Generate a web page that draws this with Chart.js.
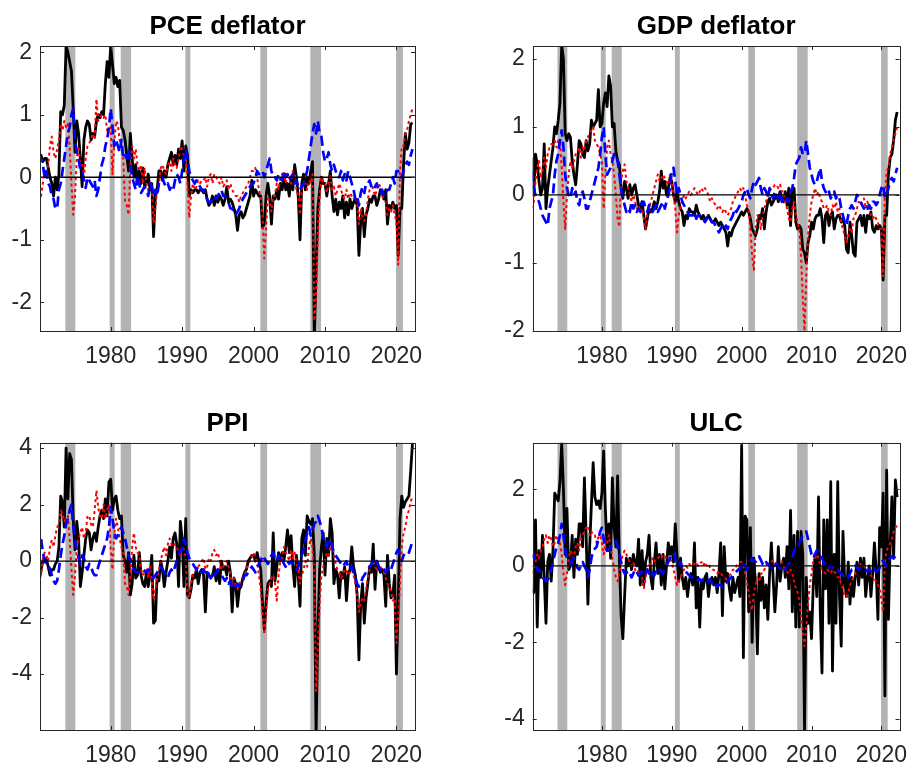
<!DOCTYPE html>
<html>
<head>
<meta charset="utf-8">
<script src="https://cdn.jsdelivr.net/npm/chart.js@4.4.1/dist/chart.umd.min.js"></script>
<style>
  body { margin: 0; background: #fff; width: 920px; height: 767px; position: relative; overflow: hidden; }
  canvas { position: absolute; display: block; }
</style>
</head>
<body>
<canvas id="pce" width="460" height="383" style="left:0;top:0"></canvas>
<canvas id="gdp" width="460" height="383" style="left:460px;top:0"></canvas>
<canvas id="ppi" width="460" height="384" style="left:0;top:383px"></canvas>
<canvas id="ulc" width="460" height="384" style="left:460px;top:383px"></canvas>
<script>
// quarterly series, first value = 1970Q1
const startYear = 1970;
const xMin = 1970.1, xMax = 2022.6;
const xTicks = [1980, 1990, 2000, 2010, 2020];

// NBER recessions (shaded)
const recessions = [
  [1973.65, 1975.05], [1979.85, 1980.55], [1981.4, 1982.85], [1990.45, 1991.15],
  [2000.95, 2001.9], [2007.95, 2009.45], [2019.95, 2020.9]
];

const pceBlack = [
  0.2, 0.35, 0.25, 0.3, 0.3, 0.15, 0.0, -0.1, -0.3, 0.0, -0.2, 0.05, 1.05, 1.0, 1.15, 2.1, 2.0, 1.85, 1.7, 1.1,
  0.4, 0.9, 0.7, 0.3, -0.15, 0.6, 0.8, 0.9, 0.85, 0.6, 0.7, 0.65, 0.9, 1.0, 0.95, 1.05, 1.0, 1.5, 1.85, 1.6,
  2.1, 1.8, 1.5, 1.6, 1.45, 1.55, 0.8, 0.75, 0.6, 0.35, 0.1, 0.7, 0.3, 0.0, 0.2, -0.1, 0.1, -0.1, 0.15, -0.15,
  -0.1, 0.05, -0.2, -0.1, -0.95, -0.3, -0.2, 0.1, 0.1, -0.05, 0.1, 0.0, 0.2, 0.3, 0.4, 0.2, 0.35, 0.2, 0.45, 0.3,
  0.58, 0.1, 0.5, 0.35, -0.3, -0.2, -0.25, -0.2, -0.2, -0.25, -0.2, -0.2, -0.25, -0.2, -0.35, -0.45, -0.4, -0.3, -0.45, -0.3,
  -0.4, -0.3, -0.35, -0.45, -0.35, -0.15, -0.4, -0.35, -0.4, -0.5, -0.6, -0.85, -0.6, -0.55, -0.65, -0.6, -0.5, -0.4, -0.3, -0.05,
  -0.3, -0.2, -0.25, -0.3, -0.3, -0.8, -0.75, -0.3, -0.1, -0.3, -0.75, -0.3, -0.35, -0.2, -0.35, -0.1, -0.2, 0.0, -0.2, -0.1,
  -0.3, 0.0, -0.2, 0.2, 0.0, -0.3, -1.0, -0.1, 0.05, -0.2, 0.0, -0.1, 0.1, 0.25, -2.6, -1.5, -0.5, -0.2, 0.0, -0.1,
  -0.1, -0.3, -0.1, 0.1, -0.3, -0.55, -0.35, -0.6, -0.4, -0.5, -0.3, -0.65, -0.4, -0.6, -0.35, -0.5, -0.4, -0.35, -0.45, -1.25,
  -0.7, -0.5, -0.95, -0.6, -0.5, -0.35, -0.4, -0.3, -0.3, -0.45, -0.35, -0.2, -0.25, -0.35, -0.2, -0.75, -0.45, -0.5, -0.4, -0.5,
  -0.45, -1.25, -0.5, -0.5, 0.2, 0.7, 0.45, 0.55, 0.85, 0.87
];
const pceRed = [
  -0.2, -0.3, -0.1, 0.1, 0.0, 0.2, 0.5, 0.65, 0.4, 0.3, 0.45, 0.6, 0.85, 0.75, 0.9, 0.8, 0.85, 0.5, -0.1, -0.6,
  -0.3, 0.3, 0.5, 0.2, 0.2, 0.0, 0.3, 0.5, 0.55, 0.6, 0.7, 0.6, 1.25, 0.9, 0.95, 1.0, 0.95, 1.0, 0.75, 0.8,
  0.8, 0.05, 0.55, 0.9, 0.85, 0.6, 0.5, 0.3, -0.38, -0.45, -0.6, 0.2, 0.5, 0.3, 0.45, 0.2, 0.1, 0.2, -0.1, 0.15,
  -0.1, -0.2, -0.1, -0.15, -0.73, -0.5, -0.2, -0.1, 0.15, 0.2, 0.1, 0.05, 0.2, 0.25, 0.1, 0.3, 0.2, 0.15, 0.3, 0.5,
  0.45, 0.35, 0.3, -0.1, -0.65, -0.3, -0.1, -0.2, -0.15, -0.05, -0.1, -0.05, -0.05, 0.0, -0.15, 0.0, 0.05, -0.1, 0.05, 0.0,
  -0.05, -0.1, 0.0, -0.15, -0.1, -0.05, -0.2, -0.1, -0.2, -0.25, -0.3, -0.3, -0.4, -0.3, -0.25, -0.2, -0.15, -0.1, 0.0, 0.1,
  0.1, 0.15, 0.0, -0.2, -0.3, -0.6, -1.3, -0.8, -0.3, -0.4, -0.55, -0.3, -0.3, -0.1, -0.2, 0.0, 0.05, 0.1, -0.1, 0.05,
  0.0, -0.1, 0.1, 0.05, -0.2, -0.3, -0.6, -0.2, -0.1, -0.1, -0.2, -0.05, -0.1, 0.05, -2.3, -1.9, -0.9, -0.3, 0.0, -0.1,
  -0.1, -0.25, -0.1, 0.05, -0.2, -0.15, -0.3, -0.2, -0.1, -0.2, -0.3, -0.35, -0.2, -0.35, -0.25, -0.3, -0.35, -0.3, -0.4, -0.75,
  -0.5, -0.65, -0.7, -0.6, -0.35, -0.2, -0.1, -0.2, -0.3, -0.2, -0.1, -0.15, -0.3, -0.35, -0.4, -0.6, -0.5, -0.55, -0.45, -0.6,
  -0.7, -1.4, 0.1, 0.5, 0.5, 0.7, 0.75, 0.9, 1.0, 1.1
];
const pceBlue = [
  0.4, 0.3, 0.2, 0.0, 0.1, -0.1, -0.15, -0.3, -0.35, -0.5, -0.5, -0.2, -0.1, 0.1, 0.3, 0.5, 0.7, 0.8, 1.0, 1.1,
  0.6, 0.4, 0.3, 0.1, 0.1, -0.05, -0.17, 0.0, -0.05, -0.1, -0.15, -0.05, -0.3, -0.2, 0.0, 0.2, 0.3, 0.5, 0.6, 0.8,
  1.1, 0.8, 0.5, 0.6, 0.5, 0.4, 0.6, 0.3, 0.35, 0.3, 0.45, 0.2, 0.0, -0.1, -0.2, 0.05, -0.1, -0.25, -0.2, -0.15,
  -0.2, -0.3, -0.1, -0.15, -0.3, -0.2, -0.3, -0.1, -0.05, 0.0, -0.1, -0.15, -0.1, -0.2, -0.15, -0.2, -0.05, 0.05, 0.0, -0.1,
  0.1, 0.3, 0.45, 0.3, 0.1, 0.0, -0.05, -0.1, -0.05, -0.1, -0.15, -0.2, -0.2, -0.3, -0.35, -0.4, -0.4, -0.35, -0.3, -0.35,
  -0.3, -0.25, -0.2, -0.3, -0.3, -0.35, -0.4, -0.5, -0.5, -0.55, -0.6, -0.55, -0.5, -0.4, -0.35, -0.3, -0.25, -0.2, -0.15, -0.1,
  -0.1, 0.0, 0.1, 0.05, 0.05, 0.1, 0.0, 0.1, 0.2, 0.3, 0.1, 0.0, 0.0, -0.05, 0.05, 0.0, -0.05, 0.1, 0.0, 0.05,
  -0.05, 0.0, 0.05, -0.1, -0.05, -0.15, -0.2, -0.15, -0.1, 0.0, 0.1, 0.3, 0.5, 0.7, 0.85, 0.7, 0.9, 0.7, 0.65, 0.4,
  0.25, 0.3, 0.4, 0.2, 0.1, 0.2, 0.1, 0.0, 0.0, 0.1, -0.05, 0.05, -0.05, 0.1, 0.0, -0.1, -0.2, -0.35, -0.3, -0.45,
  -0.25, -0.15, -0.25, -0.1, -0.1, -0.05, -0.15, -0.2, -0.15, -0.1, -0.2, -0.25, -0.2, -0.3, -0.25, -0.2, -0.2, -0.1, 0.0, -0.1,
  0.1, 0.1, 0.0, 0.0, 0.1, 0.2, 0.25, 0.2, 0.35, 0.45
];

const gdpBlack = [
  0.55, 0.0, 0.6, 0.45, 0.2, 0.0, 0.1, 0.75, -0.2, 0.1, 0.3, 0.5, 0.7, 1.0, 0.9, 1.1, 1.35, 2.2, 2.0, 0.9,
  0.8, 0.9, 0.85, 0.5, 0.3, 0.15, 0.45, 0.8, 0.75, 0.6, 0.55, 0.8, 0.65, 0.75, 1.1, 1.0, 1.05, 1.1, 1.55, 1.0,
  1.05, 1.35, 1.5, 1.3, 1.75, 1.6, 1.0, 1.05, 0.65, 0.5, 0.45, 0.1, -0.05, 0.2, 0.1, -0.05, 0.15, 0.0, 0.1, 0.15,
  0.0, -0.15, -0.2, -0.1, -0.3, -0.5, -0.35, -0.2, -0.25, -0.2, -0.1, -0.2, -0.1, 0.05, 0.35, 0.1, 0.2, 0.0, 0.1, 0.25,
  0.2, 0.0, -0.1, 0.05, -0.1, -0.2, -0.25, -0.45, -0.3, -0.35, -0.2, -0.25, -0.25, -0.3, -0.15, -0.25, -0.3, -0.35, -0.3, -0.35,
  -0.35, -0.3, -0.35, -0.4, -0.4, -0.35, -0.4, -0.45, -0.4, -0.45, -0.5, -0.55, -0.75, -0.55, -0.6, -0.5, -0.45, -0.4, -0.35, -0.3,
  -0.25, -0.3, -0.25, -0.2, -0.25, -0.35, -0.5, -0.55, -0.6, -0.5, -0.3, -0.35, -0.2, -0.5, -0.25, -0.1, -0.05, -0.15, -0.1, -0.05,
  0.0, -0.1, 0.05, -0.05, -0.1, 0.05, -0.15, 0.1, -0.45, 0.05, 0.1, -0.4, -0.5, -0.45, -0.5, -0.8, -0.85, -1.0, -0.7, -0.6,
  -0.4, -0.5, -0.35, -0.3, -0.3, -0.2, -0.35, -0.7, -0.3, -0.25, -0.45, -0.3, -0.25, -0.5, -0.35, -0.3, -0.3, -0.4, -0.35, -0.45,
  -0.8, -0.85, -0.4, -0.6, -0.85, -0.9, -0.4, -0.35, -0.3, -0.45, -0.3, -0.55, -0.3, -0.35, -0.25, -0.5, -0.55, -0.45, -0.5, -0.45,
  -0.5, -1.25, -0.3, -0.3, 0.3, 0.55, 0.6, 0.8, 1.1, 1.22
];
const gdpRed = [
  -0.2, -0.1, 0.2, 0.4, 0.5, 0.25, 0.35, 0.55, 0.4, 0.6, 0.7, 0.75, 0.75, 0.8, 0.7, 0.8, 0.8, 0.4, -0.1, -0.5,
  0.0, 0.3, 0.5, 0.4, 0.5, 0.6, 0.65, 0.7, 0.55, 0.7, 0.65, 0.8, 0.85, 0.9, 0.95, 1.0, 0.8, 0.75, 0.7, 0.6,
  0.5, -0.2, 0.3, 0.7, 0.8, 0.6, 0.5, 0.3, 0.0, -0.35, -0.47, 0.2, 0.35, 0.45, 0.2, 0.1, 0.0, -0.1, 0.0, -0.1,
  -0.2, -0.15, -0.25, -0.2, -0.35, -0.5, -0.3, -0.2, -0.1, 0.0, 0.1, 0.2, 0.3, 0.2, 0.25, 0.3, 0.25, 0.2, 0.15, 0.3,
  0.2, 0.0, -0.2, -0.55, -0.3, -0.15, -0.1, 0.0, -0.05, 0.0, 0.05, 0.0, 0.05, 0.1, 0.05, 0.0, 0.05, 0.1, 0.05, 0.1,
  0.05, 0.0, -0.1, -0.05, -0.1, -0.15, -0.2, -0.15, -0.2, -0.25, -0.2, -0.25, -0.3, -0.25, -0.2, -0.1, -0.05, 0.0, 0.05, 0.1,
  0.05, 0.1, 0.0, -0.15, -0.2, -0.5, -0.9, -1.1, -0.5, -0.3, -0.35, -0.5, -0.3, -0.2, -0.1, 0.0, 0.05, 0.1, 0.1, 0.15,
  0.15, 0.1, 0.15, 0.05, 0.05, -0.1, -0.2, -0.35, -0.4, -0.2, -0.1, -0.3, -0.4, -0.5, -0.9, -1.5, -2.0, -1.2, -0.6, -0.3,
  -0.1, 0.0, 0.1, 0.0, 0.05, -0.05, -0.1, -0.2, -0.2, -0.15, -0.25, -0.3, -0.15, -0.2, -0.1, -0.25, -0.2, -0.4, -0.5, -0.6,
  -0.7, -0.6, -0.5, -0.55, -0.35, -0.3, -0.2, -0.1, -0.15, -0.1, -0.05, -0.2, -0.1, -0.2, -0.3, -0.35, -0.3, -0.35, -0.4, -0.5,
  -0.5, -1.2, 0.0, 0.35, 0.4, 0.6, 0.7, 0.8, 0.9, 1.0
];
const gdpBlue = [
  0.35, 0.1, 0.0, -0.05, -0.1, -0.2, -0.3, -0.35, -0.4, -0.45, -0.2, -0.1, 0.0, 0.3, 0.5, 0.6, 0.8, 0.95, 0.7, 0.3,
  0.1, 0.0, -0.05, 0.1, 0.0, 0.05, -0.1, -0.15, 0.0, 0.05, -0.05, -0.2, -0.2, -0.1, 0.0, 0.1, 0.2, 0.3, 0.4, 0.6,
  0.85, 1.0, 0.6, 0.3, 0.35, 0.4, 0.5, 0.6, 0.6, 0.5, 0.3, 0.1, -0.05, -0.15, -0.25, -0.2, -0.25, -0.1, -0.2, -0.15,
  -0.25, -0.2, -0.25, -0.1, -0.1, -0.2, -0.25, -0.15, -0.2, -0.25, -0.2, -0.15, -0.25, -0.2, -0.15, -0.1, -0.2, -0.1, 0.0, 0.1,
  0.35, 0.4, 0.2, 0.0, 0.1, 0.0, -0.1, -0.15, -0.2, -0.25, -0.3, -0.3, -0.3, -0.25, -0.35, -0.3, -0.3, -0.35, -0.35, -0.4,
  -0.35, -0.3, -0.35, -0.4, -0.4, -0.45, -0.5, -0.55, -0.5, -0.45, -0.5, -0.45, -0.5, -0.4, -0.35, -0.3, -0.2, -0.25, -0.2, -0.15,
  -0.1, 0.0, 0.05, 0.1, 0.0, -0.05, 0.1, 0.2, 0.15, 0.2, 0.25, 0.1, 0.0, 0.1, 0.05, -0.05, 0.1, 0.0, -0.05, 0.05,
  0.0, -0.05, 0.05, -0.1, -0.05, -0.1, -0.05, -0.1, 0.05, 0.1, 0.25, 0.45, 0.5, 0.55, 0.7, 0.6, 0.6, 0.8, 0.6, 0.4,
  0.3, 0.2, 0.15, 0.2, 0.3, 0.4, 0.2, 0.1, 0.05, 0.0, 0.05, -0.05, 0.0, 0.05, -0.05, 0.0, -0.05, -0.2, -0.3, -0.4,
  -0.45, -0.3, -0.2, -0.15, -0.2, -0.1, 0.0, -0.05, -0.1, -0.15, -0.2, -0.15, -0.2, -0.15, -0.2, -0.1, -0.1, -0.15, -0.1, 0.0,
  0.1, 0.15, -0.05, 0.0, 0.1, 0.2, 0.25, 0.2, 0.3, 0.4
];

const ppiBlack = [
  -0.7, -0.3, 0.0, 0.1, 0.05, -0.2, -0.5, -0.3, -0.3, -0.1, 0.0, 0.5, 2.3, 2.1, 1.2, 4.0, 2.2, 3.8, 3.6, 1.5,
  0.4, 1.4, 0.8, -0.9, -0.4, 0.2, 0.8, 1.1, 1.0, 0.4, 0.8, 1.0, 0.7, 1.2, 1.6, 1.8, 1.5, 2.2, 1.6, 2.8,
  2.9, 1.8, 2.2, 2.3, 1.8, 1.5, 1.6, 0.2, 0.0, -0.4, 0.3, -1.2, -0.8, 0.2, -0.6, -0.5, 0.3, -0.5, -0.8, -0.9,
  -0.4, -0.9, -0.5, 0.2, -2.2, -2.1, -0.5, -0.7, 0.0, -0.3, -0.9, -0.4, 0.0, 0.5, 0.1, 0.8, 1.0, 0.6, -0.9, 1.4,
  0.8, -0.9, 1.5, -1.2, -1.3, -1.0, -0.5, -0.6, -0.3, -0.8, -0.4, -0.3, -0.5, -1.8, -0.4, -0.5, -0.6, -0.5, -0.2, -0.7,
  -0.3, -0.8, 0.0, -0.3, -0.2, -0.5, 0.0, -0.4, -1.8, -0.6, -0.8, -1.6, -1.0, -0.9, -0.6, -0.4, -0.3, 0.0, 0.1, 0.2,
  0.2, 0.0, 0.3, 0.0, -0.3, -1.5, -2.4, -1.5, -0.8, -0.7, -0.9, 1.0, -0.7, -0.2, 0.3, 0.0, 0.3, 0.0, 0.5, 1.1,
  0.3, 0.9, -0.2, -0.9, 0.2, -0.5, -1.6, 0.8, 1.1, 0.2, 1.6, 1.4, 1.3, 1.5, 0.2, -6.2, -2.5, -0.3, 0.5, 1.0,
  -0.5, 0.8, 0.2, 1.5, 1.0, -0.8, -0.3, -0.5, -1.3, -0.4, -0.6, -0.2, -1.4, -0.5, -0.3, 0.5, -0.2, -0.5, -1.2, -3.5,
  -1.5, -0.8, -2.2, -1.3, -0.8, -0.2, -0.4, 0.6, -1.0, 0.0, -0.2, -0.4, -0.3, -0.5, -1.6, 0.2, -0.8, -1.3, -1.2, -0.5,
  -4.0, -1.5, 1.5, 2.3, 1.9, 2.1, 2.2, 2.3, 3.2, 4.2
];
const ppiRed = [
  -0.4, -0.5, 0.1, 0.3, 0.2, 0.0, 0.5, 0.75, 0.5, 0.9, 1.2, 1.3, 1.8, 1.7, 1.4, 1.5, 1.6, 0.8, -0.3, -1.2,
  -0.5, 0.5, 0.8, 1.0, 1.2, 0.8, 1.0, 1.6, 1.6, 1.3, 1.2, 1.8, 2.5, 1.9, 1.6, 1.5, 2.0, 1.5, 1.8, 2.0,
  0.4, -0.3, 1.0, 1.5, 1.2, 0.8, 0.5, 0.3, -0.8, -0.9, -1.2, -0.5, 0.5, 1.0, 0.5, 0.3, 0.2, -0.3, -0.5, -0.4,
  -0.3, -0.6, -0.2, -0.7, -1.36, -1.0, -0.6, -0.3, 0.0, 0.3, 0.5, 0.2, 0.6, 0.8, 0.6, 0.5, 0.6, 0.5, 0.3, 0.2,
  0.5, 0.4, 0.0, -1.2, -1.3, -0.8, -0.5, -0.4, -0.3, -0.2, -0.1, 0.0, 0.1, -0.3, -0.2, 0.1, 0.0, 0.3, 0.4, 0.2,
  0.3, 0.0, -0.3, -0.2, -0.1, 0.0, -0.2, -0.5, -0.8, -0.6, -0.9, -1.0, -0.8, -0.7, -0.6, -0.5, -0.3, -0.1, 0.0, 0.2,
  0.3, 0.1, 0.0, -0.5, -1.0, -1.8, -2.6, -1.8, -1.0, -0.8, -0.6, -0.5, -0.8, -1.4, -0.5, 0.0, 0.1, 0.5, 0.3, 0.2,
  0.0, 0.4, 0.1, 0.3, -0.1, -0.3, -0.8, -0.5, -0.3, 0.0, -0.2, 0.5, 0.8, 0.5, -0.5, -4.6, -3.0, -1.5, -0.5, -0.2,
  0.0, 0.3, 0.2, 0.5, 0.6, 0.2, -0.1, -0.3, -0.4, -0.6, -0.5, -0.3, -0.3, -0.5, -0.4, -0.3, -0.5, -0.8, -1.2, -1.8,
  -1.5, -1.3, -1.4, -1.0, -0.6, -0.3, -0.1, 0.0, -0.2, -0.3, -0.1, -0.2, -0.3, -0.4, -0.6, -0.8, -0.9, -1.1, -1.4, -1.3,
  -2.9, -2.0, -0.8, 0.5, 1.0, 1.2, 1.6, 1.8, 2.1, 2.3
];
const ppiBlue = [
  0.3, 0.8, 0.3, 0.0, -0.1, -0.1, -0.3, -0.5, -0.7, -0.8, -0.7, -0.3, 0.2, 0.6, 0.9, 1.3, 1.5, 1.8, 2.0, 1.3,
  0.7, 0.4, 0.1, -0.1, 0.2, 0.1, -0.2, -0.3, -0.1, -0.2, -0.4, -0.5, -0.5, -0.2, 0.0, 0.2, 0.4, 0.6, 0.8, 1.2,
  1.9, 1.5, 1.0, 0.8, 0.9, 1.1, 1.2, 1.0, 0.8, 0.5, 0.2, 0.0, -0.2, -0.3, -0.4, -0.4, -0.4, -0.4, -0.3, -0.35,
  -0.4, -0.3, -0.4, -0.5, -0.6, -0.5, -0.4, -0.3, -0.2, -0.3, -0.4, -0.5, -0.6, -0.4, -0.3, -0.4, -0.2, 0.0, 0.2, 0.4,
  0.4, 0.8, 0.6, 0.3, 0.1, 0.0, -0.1, -0.2, -0.3, -0.2, -0.3, -0.4, -0.3, -0.4, -0.3, -0.5, -0.6, -0.5, -0.6, -0.4,
  -0.3, -0.4, -0.5, -0.6, -0.7, -0.6, -0.8, -0.7, -0.9, -1.0, -0.9, -0.8, -0.9, -0.8, -0.7, -0.5, -0.5, -0.4, -0.3, -0.2,
  -0.3, -0.4, -0.2, -0.1, 0.0, 0.2, 0.1, 0.0, -0.1, 0.0, 0.2, 0.3, 0.1, 0.0, 0.2, 0.0, 0.1, -0.1, -0.2, 0.0,
  -0.1, 0.0, -0.1, -0.2, -0.3, -0.2, 0.0, 0.2, 0.4, 0.7, 1.0, 1.2, 0.9, 1.1, 1.3, 1.4, 1.6, 1.4, 1.2, 0.8,
  0.6, 0.5, 0.8, 0.7, 0.5, 0.3, 0.2, 0.1, 0.0, -0.1, -0.2, -0.1, 0.0, -0.2, -0.3, -0.2, -0.4, -0.6, -0.8, -0.9,
  -0.8, -0.6, -0.5, -0.4, -0.3, -0.2, -0.1, 0.0, -0.1, 0.0, -0.2, -0.3, -0.2, -0.3, -0.4, -0.3, -0.2, -0.3, -0.1, 0.1,
  0.3, 0.4, 0.2, 0.0, 0.2, 0.3, 0.35, 0.3, 0.5, 0.7
];

const ulcBlack = [
  -0.6, -0.7, 1.2, -1.6, 0.4, -0.3, 0.8, -0.3, -1.5, 0.1, 0.3, -0.4, 0.4, 1.9, 1.8, 1.7, 2.2, 3.2, 2.0, 0.3,
  1.5, -0.1, 0.0, 0.8, -0.3, 0.7, 0.3, 1.1, 1.1, 0.5, 2.3, 0.8, -1.0, 0.5, 1.6, 2.7, 1.8, 1.6, 1.7, 1.5,
  1.9, 3.0, 1.5, 0.4, 1.1, 0.2, 2.3, 1.0, 0.5, 2.35, 0.2, -1.3, -1.9, -0.8, 0.2, 0.0, 0.2, -0.1, 0.3, 0.1,
  0.0, 0.7, -0.5, 0.4, -0.5, 0.1, 0.3, 0.8, -0.3, -0.6, 0.1, 0.6, -0.2, 0.3, -0.5, 0.3, -0.6, 0.0, 0.6, 0.3,
  0.5, 0.1, 1.1, 0.3, -0.4, 0.2, -0.3, -0.6, -0.3, -0.8, -0.4, -0.2, -0.5, 0.6, -1.1, -0.3, -1.6, -0.4, -0.6, -0.3,
  -0.2, -0.8, -0.4, -0.3, -0.5, -0.3, -0.7, -0.2, 0.6, -1.3, 0.5, -0.4, -0.2, -0.6, -0.9, -0.3, -0.7, -0.5, -0.3, -0.8,
  3.15, -2.4, 1.3, 1.2, -1.2, 1.0, -2.0, 0.2, -0.5, -2.3, -0.2, -0.9, -0.3, -1.1, -0.5, -1.4, -0.2, 0.6, -0.3, -1.2,
  -0.5, 0.5, -0.4, 0.0, 0.2, -0.3, 0.5, -0.6, 1.45, -1.2, 0.8, -1.6, 0.9, -1.6, 0.9, 0.3, -4.3, -0.3, -1.5, -1.2,
  -1.9, -0.5, 0.3, -0.8, 1.8, -1.2, -2.8, 1.2, -0.6, 1.2, -1.5, 2.2, -2.75, 0.3, -1.5, 2.2, -0.8, -2.1, 0.9, -0.4,
  -0.8, 0.1, -1.0, -0.3, -0.8, -0.3, 0.1, -0.5, 0.2, -0.3, 0.2, -0.8, -0.3, 0.0, -0.8, -0.2, 0.6, -0.1, -1.4, 1.0,
  0.5, 1.9, -3.4, 2.5, -1.4, 0.5, 1.8, 0.2, 2.25, 1.8
];
const ulcRed = [
  -0.2, -0.1, 0.1, 0.3, 0.2, 0.4, 0.5, 0.7, 0.8, 0.6, 0.8, 0.7, 0.5, 0.6, 0.8, 0.7, 0.6, 0.3, -0.2, -0.5,
  -0.2, 0.2, 0.4, 0.3, 0.2, 0.5, 0.6, 0.4, 0.7, 0.8, 0.9, 1.0, 1.05, 0.8, 0.9, 0.8, 0.8, 0.6, 0.75, 0.8,
  0.6, 0.3, 0.5, 0.6, 0.8, 0.5, 0.2, -0.1, -0.3, -0.4, -0.2, 0.1, 0.3, 0.4, 0.3, 0.2, 0.1, 0.0, 0.1, -0.1,
  -0.2, -0.1, -0.2, -0.3, -0.6, -0.3, -0.1, 0.0, 0.1, 0.2, 0.1, 0.2, 0.2, 0.25, 0.3, 0.2, 0.25, 0.2, 0.1, 0.2,
  0.1, -0.1, -0.3, -0.5, -0.4, -0.3, -0.2, -0.1, 0.0, -0.05, 0.05, 0.0, 0.0, 0.05, 0.1, 0.0, 0.05, 0.1, 0.0, 0.1,
  0.0, 0.05, -0.05, -0.1, -0.1, -0.15, -0.2, -0.15, -0.2, -0.25, -0.3, -0.35, -0.3, -0.25, -0.2, -0.1, -0.1, 0.0, 0.05, 0.1,
  0.1, 0.0, -0.2, -0.4, -0.7, -1.0, -1.16, -0.7, -0.5, -0.3, -0.4, -0.2, -0.2, -0.1, 0.0, 0.1, 0.0, 0.1, 0.15, 0.05,
  0.1, 0.0, -0.1, 0.1, 0.0, -0.1, -0.15, -0.2, -0.1, -0.2, -0.4, -0.6, -0.7, -0.9, -1.3, -1.7, -2.1, -1.6, -1.0, -0.5,
  -0.2, 0.1, 0.2, 0.3, 0.2, 0.0, -0.1, -0.15, -0.2, -0.1, -0.15, -0.2, -0.1, -0.15, -0.2, -0.3, -0.3, -0.5, -0.6, -0.8,
  -0.8, -0.7, -0.5, -0.4, -0.3, -0.2, -0.1, 0.0, 0.05, -0.05, 0.0, -0.1, -0.15, -0.2, -0.25, -0.3, -0.35, -0.4, -0.5, -0.6,
  -0.9, -1.2, 0.1, 0.4, 0.5, 0.6, 0.7, 0.9, 1.0, 1.05
];
const ulcBlue = [
  0.2, 0.3, 0.1, -0.1, -0.1, -0.2, -0.3, -0.35, -0.4, -0.35, -0.3, -0.1, 0.1, 0.3, 0.5, 0.6, 0.8, 1.1, 0.8, 0.4,
  0.2, 0.1, 0.05, 0.15, 0.2, 0.1, -0.05, -0.1, 0.0, 0.1, 0.0, -0.1, -0.3, -0.1, 0.2, 0.4, 0.45, 0.5, 0.7, 0.9,
  1.0, 0.7, 0.5, 0.4, 0.4, 0.5, 0.55, 0.6, 0.65, 0.5, 0.3, 0.1, -0.1, -0.2, -0.15, -0.25, -0.2, -0.3, -0.2, -0.1,
  -0.15, -0.25, -0.2, -0.15, -0.1, -0.2, -0.1, -0.2, -0.3, -0.2, -0.25, -0.15, -0.2, -0.1, -0.15, -0.2, -0.1, 0.0, 0.1, 0.2,
  0.3, 0.35, 0.2, 0.05, 0.0, 0.1, -0.05, -0.1, -0.15, -0.2, -0.25, -0.3, -0.3, -0.35, -0.4, -0.35, -0.35, -0.4, -0.35, -0.3,
  -0.35, -0.4, -0.35, -0.45, -0.5, -0.45, -0.55, -0.5, -0.5, -0.55, -0.5, -0.45, -0.4, -0.35, -0.3, -0.25, -0.2, -0.15, -0.1, -0.05,
  0.0, 0.1, 0.0, -0.1, 0.0, 0.1, 0.2, 0.15, 0.1, 0.2, 0.25, 0.15, 0.05, 0.0, 0.1, 0.05, 0.0, -0.05, 0.05, 0.0,
  0.05, 0.0, -0.05, -0.1, -0.05, -0.1, 0.0, 0.05, 0.1, 0.2, 0.4, 0.5, 0.5, 0.6, 0.7, 0.8, 0.85, 0.9, 0.7, 0.5,
  0.3, 0.2, 0.3, 0.4, 0.4, 0.3, 0.2, 0.1, 0.0, 0.05, -0.05, 0.0, -0.05, 0.0, -0.05, -0.1, -0.15, -0.2, -0.25, -0.3,
  -0.35, -0.3, -0.2, -0.1, -0.1, 0.0, -0.05, -0.1, -0.05, -0.1, -0.15, -0.1, -0.15, -0.1, -0.15, -0.2, -0.1, -0.15, -0.1, -0.05,
  0.1, 0.15, 0.05, 0.0, 0.1, 0.2, 0.25, 0.2, 0.25, 0.3
];

const FONT = "'Liberation Sans', Arial, Helvetica, sans-serif";
const INK = '#262626';
const TICK_LEN = 4;

// shading behind the lines, matlab style box and inner ticks on top
const axesDecor = {
  id: 'axesDecor',
  beforeDatasetsDraw(chart) {
    const {ctx, chartArea: a, scales: {x}} = chart;
    ctx.save();
    ctx.fillStyle = '#b3b3b3';
    recessions.forEach(([s, e]) => {
      const x0 = Math.max(x.getPixelForValue(s), a.left);
      const x1 = Math.min(x.getPixelForValue(e), a.right);
      ctx.fillRect(x0, a.top, x1 - x0, a.bottom - a.top);
    });
    ctx.restore();
  },
  afterDatasetsDraw(chart) {
    const {ctx, chartArea: a, scales: {x, y}} = chart;
    ctx.save();
    ctx.strokeStyle = INK;
    ctx.lineWidth = 1;
    ctx.beginPath();
    x.ticks.forEach(t => {
      const px = Math.round(x.getPixelForValue(t.value)) + 0.5;
      ctx.moveTo(px, a.bottom); ctx.lineTo(px, a.bottom - TICK_LEN);
      ctx.moveTo(px, a.top); ctx.lineTo(px, a.top + TICK_LEN);
    });
    y.ticks.forEach(t => {
      const py = Math.round(y.getPixelForValue(t.value)) + 0.5;
      ctx.moveTo(a.left, py); ctx.lineTo(a.left + TICK_LEN, py);
      ctx.moveTo(a.right, py); ctx.lineTo(a.right - TICK_LEN, py);
    });
    ctx.stroke();
    ctx.strokeRect(Math.round(a.left) + 0.5, Math.round(a.top) + 0.5,
      Math.round(a.right - a.left), Math.round(a.bottom - a.top));
    ctx.restore();
  }
};

function toPoints(arr) {
  return arr.map((v, i) => ({x: startYear + i / 4, y: v}));
}

function drawPanel(id, title, black, red, blue, yMin, yMax, yTicks, area, titleTop) {
  const canvas = document.getElementById(id);
  const w = canvas.width, h = canvas.height;
  return new Chart(canvas, {
    type: 'line',
    data: {
      datasets: [
        {data: [{x: xMin, y: 0}, {x: xMax, y: 0}], borderColor: '#000', borderWidth: 1.3},
        {data: toPoints(blue), borderColor: '#0000ff', borderWidth: 2.7, borderDash: [10, 5]},
        {data: toPoints(red), borderColor: '#ff0000', borderWidth: 2, borderDash: [3, 3]},
        {data: toPoints(black), borderColor: '#000', borderWidth: 2.8}
      ]
    },
    options: {
      responsive: false,
      animation: false,
      events: [],
      elements: {
        point: {radius: 0},
        line: {tension: 0, fill: false, borderJoinStyle: 'round'}
      },
      datasets: {line: {clip: 0}},
      layout: {padding: {left: 0, top: 0, right: w - area.r, bottom: 0}},
      plugins: {
        legend: {display: false},
        tooltip: {enabled: false},
        title: {
          display: true, text: title, fullSize: false, color: '#000',
          font: {family: FONT, size: 26, weight: 'bold'},
          padding: {top: titleTop, bottom: area.t - 31.2 - titleTop}
        }
      },
      scales: {
        x: {
          type: 'linear', min: xMin, max: xMax,
          grid: {display: false, drawTicks: false},
          border: {display: false},
          ticks: {color: INK, font: {family: FONT, size: 23}, padding: 12, maxRotation: 0, autoSkip: false,
                  callback: v => String(v)},
          afterBuildTicks: s => { s.ticks = xTicks.map(v => ({value: v})); },
          afterFit: s => { s.height = h - area.b; }
        },
        y: {
          type: 'linear', min: yMin, max: yMax,
          grid: {display: false, drawTicks: false},
          border: {display: false},
          ticks: {color: INK, font: {family: FONT, size: 23}, padding: 8, autoSkip: false,
                  callback: v => String(v)},
          afterBuildTicks: s => { s.ticks = yTicks.map(v => ({value: v})); },
          afterFit: s => { s.width = area.l; }
        }
      }
    },
    plugins: [axesDecor]
  });
}

drawPanel('pce', 'PCE deflator', pceBlack, pceRed, pceBlue, -2.46, 2.1, [-2, -1, 0, 1, 2],
  {l: 40, t: 46, r: 415, b: 331}, 11);
drawPanel('gdp', 'GDP deflator', gdpBlack, gdpRed, gdpBlue, -2, 2.19, [-2, -1, 0, 1, 2],
  {l: 72.7, t: 46, r: 450, b: 331}, 11);
drawPanel('ppi', 'PPI', ppiBlack, ppiRed, ppiBlue, -5.98, 4.19, [-4, -2, 0, 2, 4],
  {l: 40, t: 59.7, r: 415, b: 347}, 25);
drawPanel('ulc', 'ULC', ulcBlack, ulcRed, ulcBlue, -4.29, 3.22, [-4, -2, 0, 2],
  {l: 72.7, t: 59.7, r: 450, b: 347}, 25);
</script>
</body>
</html>
